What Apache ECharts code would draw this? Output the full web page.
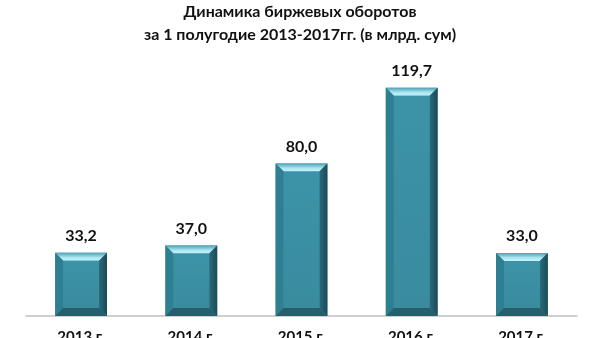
<!DOCTYPE html>
<html><head><meta charset="utf-8">
<script src="https://cdn.jsdelivr.net/npm/echarts@6/dist/echarts.min.js"></script>
<style>html,body{margin:0;padding:0;background:#fff}#c{width:600px;height:338px}</style>
</head><body><div id="c"></div>
<script>
var categories = ['2013 г.', '2014 г.', '2015 г.', '2016 г.', '2017 г.'];
var values = [33.2, 37.0, 80.0, 119.7, 33.0];
var titleLines = ['Динамика биржевых оборотов', 'за 1 полугодие 2013-2017гг. (в млрд. сум)'];

var chart = echarts.init(document.getElementById('c'));
var FONT = 'Lato,"Open Sans",sans-serif';
var TFONT = 'Lato,"Open Sans",sans-serif';
function renderBar(params, api) {
  var x = api.value(0), v = api.value(1);
  var top = api.coord([x, v]);
  var base = api.coord([x, 0]);
  var bw = api.size([1, 0])[0] * 0.47;
  var x0 = top[0] - bw / 2, x1 = top[0] + bw / 2;
  var y0 = top[1], y1 = base[1];
  var b = 8;
  var fmt = v.toFixed(1).replace('.', ',');
  return {
    type: 'group',
    children: [
      {type: 'rect', shape: {x: x0, y: y0, width: bw, height: y1 - y0}, style: {fill: '#3a8da0'}},
      {type: 'polygon', shape: {points: [[x0, y0], [x1, y0], [x1 - b, y0 + b], [x0 + b, y0 + b]]},
        style: {fill: {type: 'linear', x: 0, y: 0, x2: 0, y2: 1, colorStops: [{offset: 0, color: '#4f9fb2'}, {offset: 0.6, color: '#a9e6f2'}, {offset: 1, color: '#c9f3fb'}]}}},
      {type: 'polygon', shape: {points: [[x0, y0], [x0 + b, y0 + b], [x0 + b, y1 - b], [x0, y1]]}, style: {fill: '#2e7f92'}},
      {type: 'polygon', shape: {points: [[x1, y0], [x1 - b, y0 + b], [x1 - b, y1 - b], [x1, y1]]},
        style: {fill: {type: 'linear', x: 0, y: 0, x2: 1, y2: 0, colorStops: [{offset: 0, color: '#2a6b7a'}, {offset: 1, color: '#1b4a56'}]}}},
      {type: 'polygon', shape: {points: [[x0, y1], [x0 + b, y1 - b], [x1 - b, y1 - b], [x1, y1]]}, style: {fill: '#255f6d'}},
      {type: 'rect', shape: {x: x0 + b, y: y0 + b, width: bw - 2 * b, height: Math.max(0, y1 - y0 - 2 * b)},
        style: {fill: {type: 'linear', x: 0, y: 0, x2: 0, y2: 1, colorStops: [{offset: 0, color: '#3c93a7'}, {offset: 1, color: '#3a8b9e'}]}}},
      {type: 'text', style: {text: fmt, x: top[0], y: y0 - 17, align: 'center', verticalAlign: 'middle',
        font: 'bold 16px ' + FONT, fill: '#111'}}
    ]
  };
}
chart.setOption({
  animation: false,
  title: {
    text: titleLines.join('\n'), left: 'center', top: 0, padding: 0,
    textStyle: {fontFamily: TFONT, fontWeight: 'bold', fontSize: 16, color: '#111', lineHeight: 23}
  },
  grid: {left: 26, right: 23, top: 68, bottom: 22, outerBoundsMode: 'none', containLabel: false},
  xAxis: {
    type: 'category', data: categories,
    axisLine: {lineStyle: {color: '#c0c0c0', width: 1.5}},
    axisTick: {show: false},
    axisLabel: {fontFamily: FONT, fontWeight: 'bold', fontSize: 15, color: '#111', margin: 14}
  },
  yAxis: {type: 'value', min: 0, max: 130, show: false, splitLine: {show: false}},
  series: [{
    type: 'custom', renderItem: renderBar,
    data: values.map(function (v, i) { return [i, v]; }),
    encode: {x: 0, y: 1}
  }]
});
</script></body></html>
